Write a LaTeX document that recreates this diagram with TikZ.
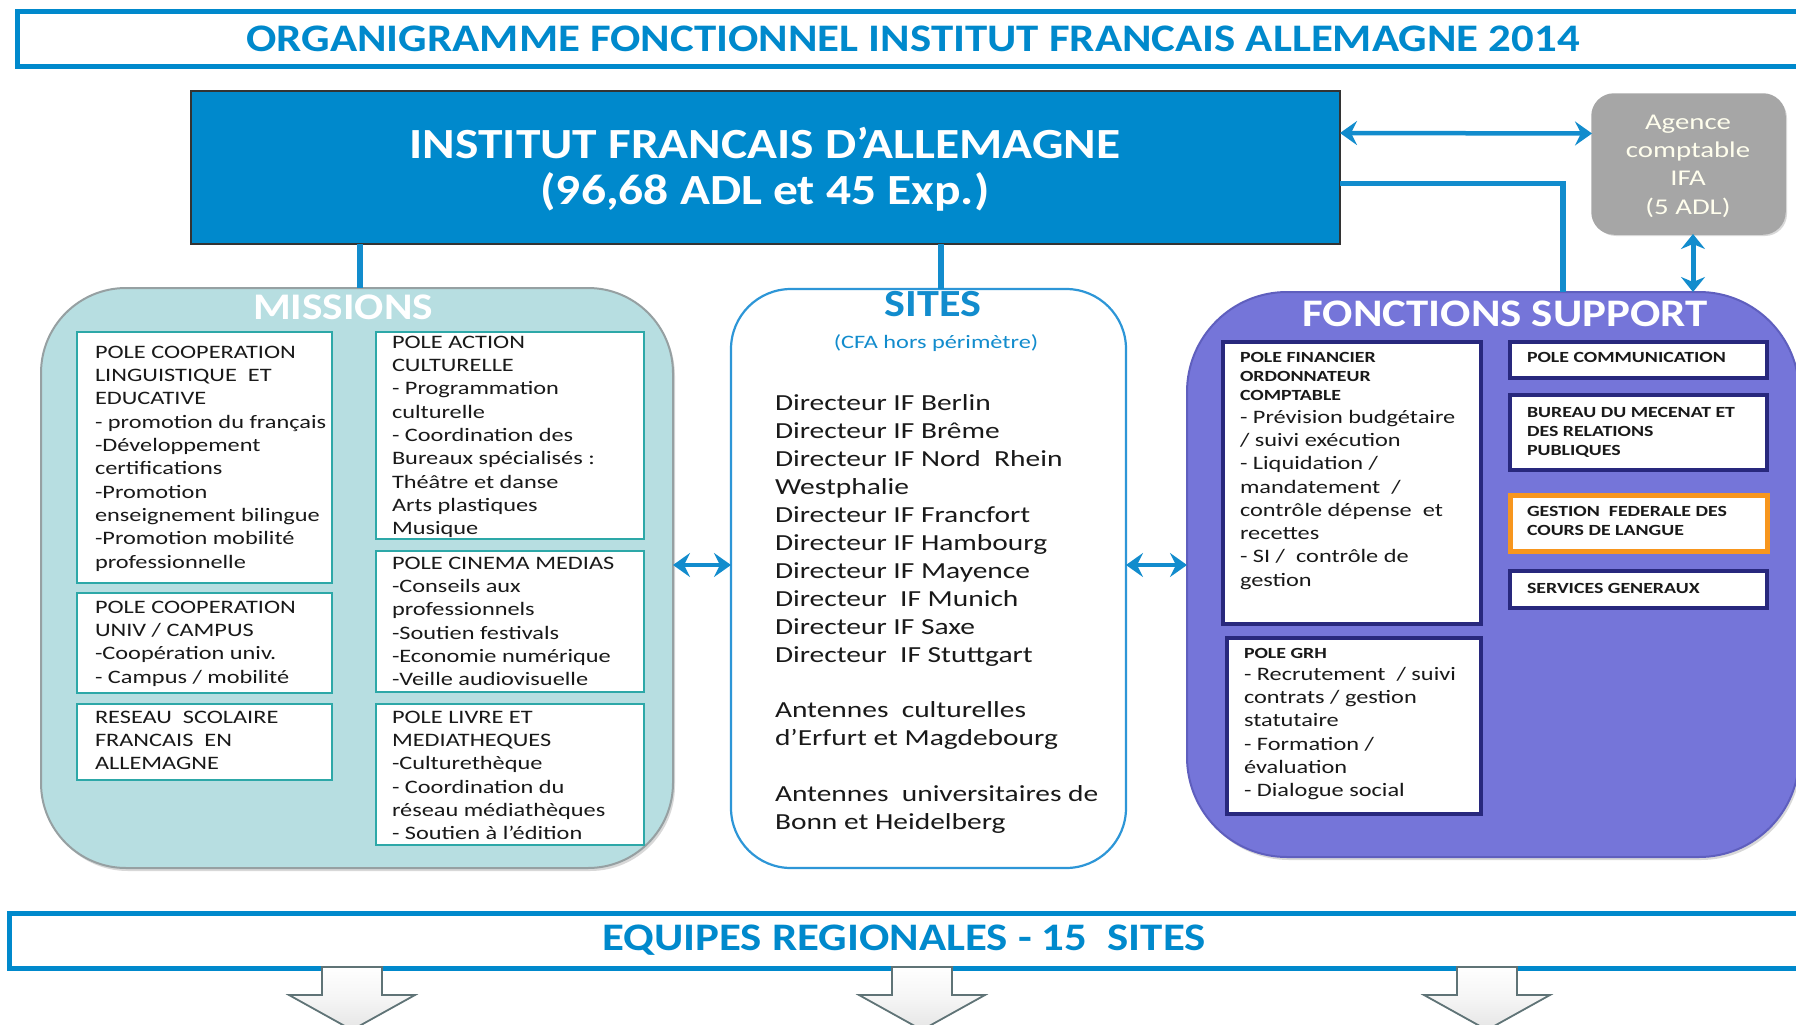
\documentclass[tikz,border=0pt]{standalone}
\usepackage{fontspec}
\setmainfont{Carlito}
\newfontfamily\bodyf{Carlito}[FakeStretch=1.28]
\newfontfamily\headf{Carlito}[FakeStretch=1.15]
\usetikzlibrary{calc,shadows,arrows.meta}

\definecolor{ifblue}{RGB}{0,137,204}
\definecolor{arrblue}{RGB}{18,140,205}
\definecolor{misfill}{RGB}{183,222,225}
\definecolor{misline}{RGB}{150,160,162}
\definecolor{tealb}{RGB}{45,168,168}
\definecolor{purp}{RGB}{117,117,217}
\definecolor{purpline}{RGB}{95,95,190}
\definecolor{navyb}{RGB}{40,40,125}
\definecolor{orng}{RGB}{247,150,30}
\definecolor{agray}{RGB}{166,166,166}
\definecolor{txtc}{RGB}{25,25,25}
\definecolor{sitesline}{RGB}{45,150,215}
\definecolor{arrline}{RGB}{95,115,118}

\begin{document}
\begin{tikzpicture}[x=1pt,y=-1pt,
  every node/.style={inner sep=0pt, outer sep=0pt},
  rbox/.style={anchor=north west, draw},
  txtb/.style={anchor=north west, align=left, text=txtc, font=\bodyf\fontsize{19}{23.3}\selectfont},
  hdb/.style={anchor=north west, align=left, text=txtc, font=\bodyf\bfseries\fontsize{15.5}{19}\selectfont},
  mbox/.style={rbox, fill=white, draw=tealb, line width=2.5pt},
  fbox/.style={rbox, fill=white, draw=navyb, line width=4pt},
  bigtitle/.style={font=\headf\bfseries\fontsize{39}{44}\selectfont},
  conn/.style={draw=arrblue, line width=6pt},
  dbl/.style={draw=arrblue, line width=4.5pt, {Stealth[length=17pt,width=24pt,inset=6pt]}-{Stealth[length=17pt,width=24pt,inset=6pt]}},
  downarr/.style={draw=arrline, line width=1.8pt, top color=white, bottom color=white!80!gray, middle color=white!92!gray}
]
\useasboundingbox (0,0) rectangle (1796,1025);
\fill[white] (0,0) rectangle (1796,1025);

% title
\node[rbox, draw=ifblue, line width=5pt, minimum width=1800pt, minimum height=55pt] (title) at (17,12) {};
\node[bigtitle, text=ifblue] (titletxt) at (913,39) {ORGANIGRAMME FONCTIONNEL INSTITUT FRANCAIS ALLEMAGNE 2014};

% main box
\node[rbox, fill=ifblue, draw=black!80, line width=2pt, minimum width=1149pt, minimum height=153pt] (ifa) at (191,91) {};
\node[align=center, text=white, font=\headf\bfseries\fontsize{43}{46}\selectfont] (ifatxt) at (765,169) {INSTITUT FRANCAIS D’ALLEMAGNE\\(96,68 ADL et 45 Exp.)};

% agence
\node[rbox, fill=agray, draw=black!35, line width=1.5pt, rounded corners=22pt, minimum width=193pt, minimum height=140pt, drop shadow={shadow xshift=2pt, shadow yshift=-2pt, opacity=0.3}] (agence) at (1592,94) {};
\node[align=center, text=white!93!yellow, font=\bodyf\fontsize{22.5}{28.3}\selectfont] (agtxt) at (1688,166) {Agence\\comptable\\IFA\\(5 ADL)};

% missions
\node[rbox, fill=misfill, draw=misline, line width=2pt, rounded corners=85pt, minimum width=632pt, minimum height=580pt, drop shadow={shadow xshift=2pt, shadow yshift=-3pt, opacity=0.3}] (missions) at (41,288) {};
\node[text=white, font=\headf\bfseries\fontsize{37.6}{40}\selectfont] (mistxt) at (343,307) {MISSIONS};

% sites
\node[rbox, fill=white, draw=sitesline, line width=2.2pt, rounded corners=60pt, minimum width=395pt, minimum height=579pt] (sites) at (731,289) {};
\node[text=arrblue, font=\headf\bfseries\fontsize{38.4}{40}\selectfont] (sitestit) at (933,304) {SITES};
\node[text=arrblue, font=\bodyf\fontsize{19}{22}\selectfont] (cfa) at (936,343) {(CFA hors périmètre)};
\node[anchor=north west, align=left, text=txtc, font=\bodyf\fontsize{23}{27.9}\selectfont] (sitestxt) at (775,395) {Directeur IF Berlin\\
Directeur IF Brême\\
Directeur IF Nord\ \ Rhein\\
Westphalie\\
Directeur IF Francfort\\
Directeur IF Hambourg\\
Directeur IF Mayence\\
Directeur\ \ IF Munich\\
Directeur IF Saxe\\
Directeur\ \ IF Stuttgart\\[27.9pt]
Antennes\ \ culturelles\\
d’Erfurt et Magdebourg\\[27.9pt]
Antennes\ \ universitaires de\\
Bonn et Heidelberg};

% fonctions support
\node[rbox, fill=purp, draw=purpline, line width=2pt, rounded corners=100pt, minimum width=612pt, minimum height=565pt, drop shadow={shadow xshift=2pt, shadow yshift=-3pt, opacity=0.3}] (fonctions) at (1187,292) {};
\node[text=white, font=\headf\bfseries\fontsize{39}{42}\selectfont] (fontxt) at (1505,314) {FONCTIONS SUPPORT};

% missions inner boxes
\node[mbox, minimum width=255pt, minimum height=251pt] (pcl) at (77,332) {};
\node[txtb] (pcltxt) at (95,346) {POLE COOPERATION\\LINGUISTIQUE\ \ ET\\EDUCATIVE\\- promotion du français\\-Développement\\certifications\\-Promotion\\enseignement\ bilingue\\-Promotion mobilité\\professionnelle};
\node[mbox, minimum width=255pt, minimum height=100pt] (pcu) at (77,593) {};
\node[txtb] (pcutxt) at (95,601) {POLE COOPERATION\\UNIV / CAMPUS\\-Coopération univ.\\- Campus / mobilité};
\node[mbox, minimum width=255pt, minimum height=76pt] (rsf) at (77,704) {};
\node[txtb] (rsftxt) at (95,711) {RESEAU\ \ SCOLAIRE\\FRANCAIS\ \ EN\\ALLEMAGNE};
\node[mbox, minimum width=268pt, minimum height=207pt] (pac) at (376,332) {};
\node[txtb] (pactxt) at (392,336) {POLE ACTION\\CULTURELLE\\- Programmation\\culturelle\\- Coordination des\\Bureaux spécialisés :\\Théâtre et danse\\Arts plastiques\\Musique};
\node[mbox, minimum width=268pt, minimum height=141pt] (pcm) at (376,551) {};
\node[txtb] (pcmtxt) at (392,557) {POLE CINEMA MEDIAS\\-Conseils aux\\professionnels\\-Soutien festivals\\-Economie numérique\\-Veille audiovisuelle};
\node[mbox, minimum width=268pt, minimum height=141pt] (plm) at (376,704) {};
\node[txtb] (plmtxt) at (392,711) {POLE LIVRE ET\\MEDIATHEQUES\\-Culturethèque\\- Coordination du\\réseau médiathèques\\- Soutien à l’édition};

% fonctions inner boxes
\node[fbox, minimum width=258pt, minimum height=282pt] (pfin) at (1223,342) {};
\node[hdb] (pfinhd) at (1240,352) {POLE FINANCIER\\ORDONNATEUR\\COMPTABLE};
\node[txtb] (pfintxt) at (1240,410) {- Prévision budgétaire\\/ suivi exécution\\- Liquidation /\\mandatement\ \ /\\contrôle dépense\ \ et\\recettes\\- SI /\ \ contrôle de\\gestion};
\node[fbox, minimum width=254pt, minimum height=176pt] (pgrh) at (1227,638) {};
\node[hdb] (pgrhhd) at (1244,648) {POLE GRH};
\node[txtb] (pgrhtxt) at (1244,667) {- Recrutement\ \ / suivi\\contrats / gestion\\statutaire\\- Formation /\\évaluation\\- Dialogue social};
\node[fbox, minimum width=257pt, minimum height=36pt] (pcom) at (1510,342) {};
\node[hdb] (pcomtxt) at (1527,352) {POLE COMMUNICATION};
\node[fbox, minimum width=257pt, minimum height=75pt] (bmec) at (1510,395) {};
\node[hdb] (bmectxt) at (1527,407) {BUREAU DU MECENAT ET\\DES RELATIONS\\PUBLIQUES};
\node[rbox, fill=white, draw=orng, line width=5pt, minimum width=257pt, minimum height=56pt] (gfed) at (1510,495) {};
\node[hdb] (gfedtxt) at (1527,506) {GESTION\ \ FEDERALE DES\\COURS DE LANGUE};
\node[fbox, minimum width=257pt, minimum height=37pt] (sgen) at (1510,571) {};
\node[hdb] (sgentxt) at (1527,583) {SERVICES GENERAUX};

% connector anchor points
\coordinate (mtop) at ($(missions.north)+(3,0)$);
\coordinate (stop) at ($(sites.north)+(12.5,0)$);
\coordinate (fsup) at ($(fonctions.north west)+(376,0)$);
\coordinate (ifar) at ($(ifa.east)+(0,16)$);
\coordinate (ifaa) at ($(ifa.east)+(0,-34.5)$);
\coordinate (agw) at ($(agence.west)+(0,-30.5)$);
\coordinate (ags) at ($(agence.south)+(4.5,0)$);
\coordinate (mise) at ($(missions.east)+(0,-13)$);
\coordinate (sitw) at ($(sites.west)+(0,-13.5)$);
\coordinate (site) at ($(sites.east)+(0,-13.5)$);
\coordinate (fonw) at ($(fonctions.west)+(0,-9.5)$);

% connectors
\draw[conn] (mtop |- ifa.south) -- (mtop);
\draw[conn] (stop |- ifa.south) -- (stop);
\draw[conn, line width=5.5pt] (ifar) -| (fsup);
\draw[dbl] (ifaa) -- (agw);
\draw[dbl, line width=5pt, {Stealth[length=15pt,width=24pt,inset=5pt]}-{Stealth[length=15pt,width=24pt,inset=5pt]}] (ags) -- (ags |- fonctions.north);
\draw[dbl] (mise) -- (sitw);
\draw[dbl] (site) -- (fonw);

% bottom
\node[rbox, draw=ifblue, line width=5pt, minimum width=1810pt, minimum height=55pt] (equipes) at (9,913) {};
\node[bigtitle, text=ifblue] (eqtxt) at (904,940) {EQUIPES REGIONALES - 15\ \ SITES};

\foreach \cx in {352,922,1487}{
  \path[downarr] (\cx-30,967) -- (\cx+30,967) -- (\cx+30,995) -- (\cx+63,995) -- (\cx,1030) -- (\cx-63,995) -- (\cx-30,995) -- cycle;
}
\end{tikzpicture}
\end{document}
